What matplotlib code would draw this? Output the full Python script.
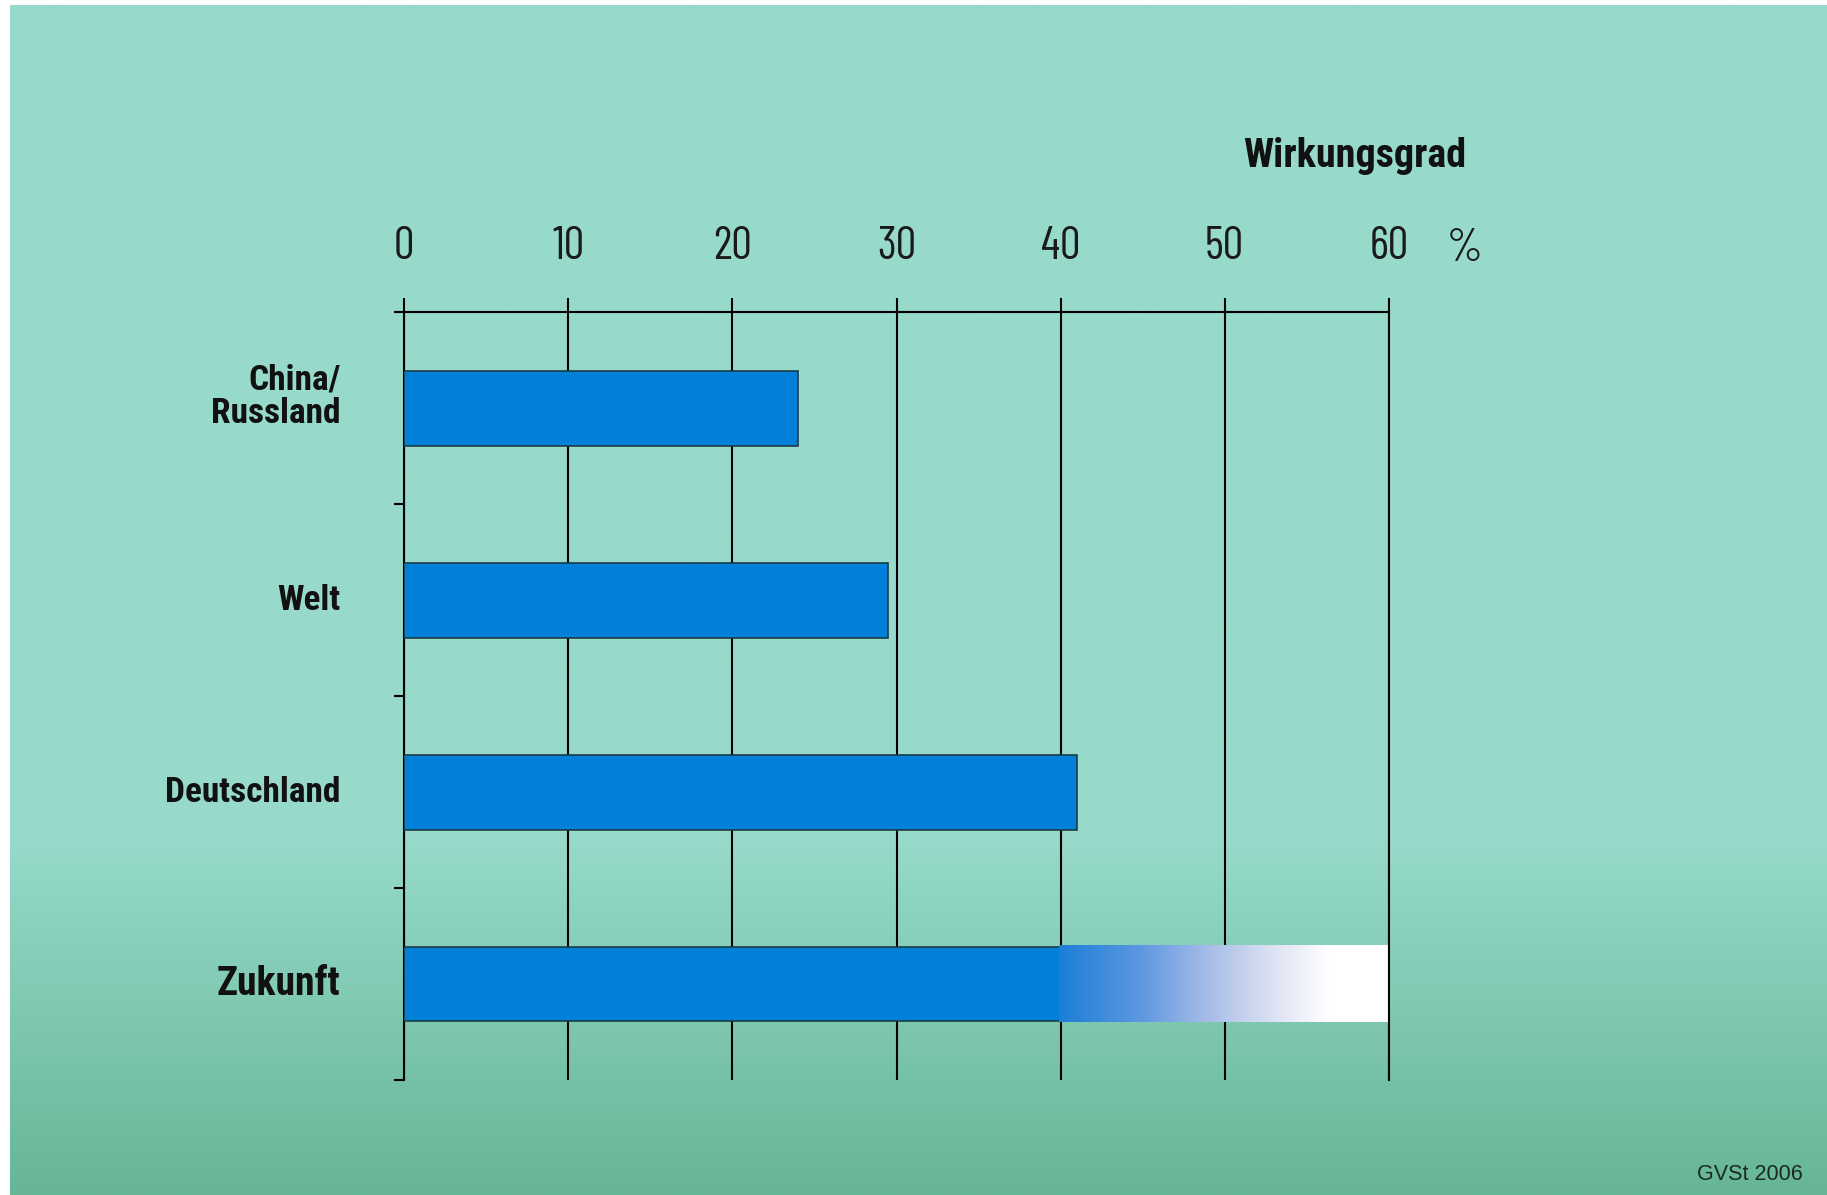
import numpy as np
import matplotlib.pyplot as plt
from matplotlib import font_manager
from matplotlib.colors import LinearSegmentedColormap

# data
categories = ['China/\nRussland', 'Welt', 'Deutschland', 'Zukunft']
efficiency = [24.0, 29.5, 41.0, 40.0]   # Wirkungsgrad in %
future_target = 60.0                    # faded part of "Zukunft"
x_ticks = [0, 10, 20, 30, 40, 50, 60]

# pick condensed fonts that are actually installed
avail = {f.name for f in font_manager.fontManager.ttflist}
def pick(prefs):
    return [n for n in prefs if n in avail] + ['DejaVu Sans']

tick_font = pick(['Barlow Condensed', 'Roboto Condensed', 'IBM Plex Sans Condensed'])
label_font = pick(['Roboto Condensed', 'Open Sans Condensed', 'IBM Plex Sans Condensed'])
plt.rcParams['font.family'] = label_font

W, H = 1827, 1195
fig = plt.figure(figsize=(W / 100, H / 100), dpi=100, facecolor='white')

# teal background, darker towards the bottom
bg = fig.add_axes([10 / W, 0, 1 - 10 / W, 1 - 5 / H], zorder=0)
t = np.linspace(0, 1, 600)
top_c = np.array([151, 218, 203]) / 255
bot_c = np.array([102, 182, 150]) / 255
s = np.clip((t - 0.70) / 0.30, 0, 1)
grad = top_c[None, :] * (1 - s[:, None]) + bot_c[None, :] * s[:, None]
bg.imshow(grad[:, None, :], aspect='auto', extent=[0, 1, 0, 1])
bg.axis('off')

# main axes (pixel box)
x0, x1, y_top, y_bot = 404.3, 1388.7, 312.3, 1080
ax = fig.add_axes([x0 / W, 1 - y_bot / H, (x1 - x0) / W, (y_bot - y_top) / H], zorder=1)
ax.patch.set_alpha(0)

y = np.arange(len(categories))
bar_h = 0.39
blue = '#0080d8'
ax.barh(y, efficiency, height=bar_h, color=blue, edgecolor='#1c3c44',
        linewidth=1.2, zorder=3)

# fading extension of the "Zukunft" bar (no edge line at the join)
fade = LinearSegmentedColormap.from_list('fade', [
    (0.0, '#1a7fd8'), (0.25, '#5f98e0'), (0.45, '#a6bce8'),
    (0.65, '#dde2f3'), (0.82, '#ffffff'), (1.0, '#ffffff')])
ax.imshow(np.linspace(0, 1, 256)[None, :], cmap=fade, aspect='auto',
          extent=[efficiency[-1] - 0.08, future_target,
                  y[-1] + bar_h / 2 + 0.004, y[-1] - bar_h / 2 - 0.004],
          zorder=4)
ax.axvline(x_ticks[-1], color='black', linewidth=1.5, zorder=5, clip_on=False)

ax.set_xlim(0, 60)
ax.set_ylim(len(categories) - 0.5, -0.5)

ax.xaxis.tick_top()
ax.set_xticks(x_ticks)
ax.set_xticklabels([str(v) for v in x_ticks], family=tick_font, fontweight='normal')
ax.tick_params(axis='x', direction='out', length=10, width=1.5, pad=22,
               labelsize=33, labelcolor='#1a1a1a')
ax.set_yticks(np.arange(len(categories) + 1) - 0.5)
ax.set_yticklabels([])
ax.tick_params(axis='y', direction='out', length=7.5, width=1.5)

ax.set_axisbelow(True)
ax.grid(axis='x', color='black', linewidth=1.5)
ax.grid(axis='y', visible=False)

for side in ['right', 'bottom']:
    ax.spines[side].set_visible(False)
for side in ['top', 'left']:
    ax.spines[side].set_linewidth(1.5)

# category labels, right aligned left of the axis
for i, lab in enumerate(categories):
    size = 28.5 if lab == 'Zukunft' else 25.5
    dy = -0.06 if '\n' in lab else 0
    ax.text(-3.9, i + dy, lab, ha='right', va='center', multialignment='right',
            fontsize=size, fontweight='bold', color='#111111', linespacing=1.02)

ax.text(64.6, 1.083, '%', transform=ax.get_xaxis_transform(), ha='center',
        va='center', fontsize=33, fontweight='normal', family=tick_font, color='#1a1a1a')
ax.text(57.9, 1.203, 'Wirkungsgrad', transform=ax.get_xaxis_transform(),
        ha='center', va='center', fontsize=29, fontweight='bold', color='#111111')

fig.text(1803 / W, 1 - 1175 / H, 'GVSt 2006', ha='right', va='center',
         fontsize=15.5, family=['Liberation Sans', 'DejaVu Sans'], color='#1a2a22')

fig.savefig('out.png', dpi=100, facecolor='white')
